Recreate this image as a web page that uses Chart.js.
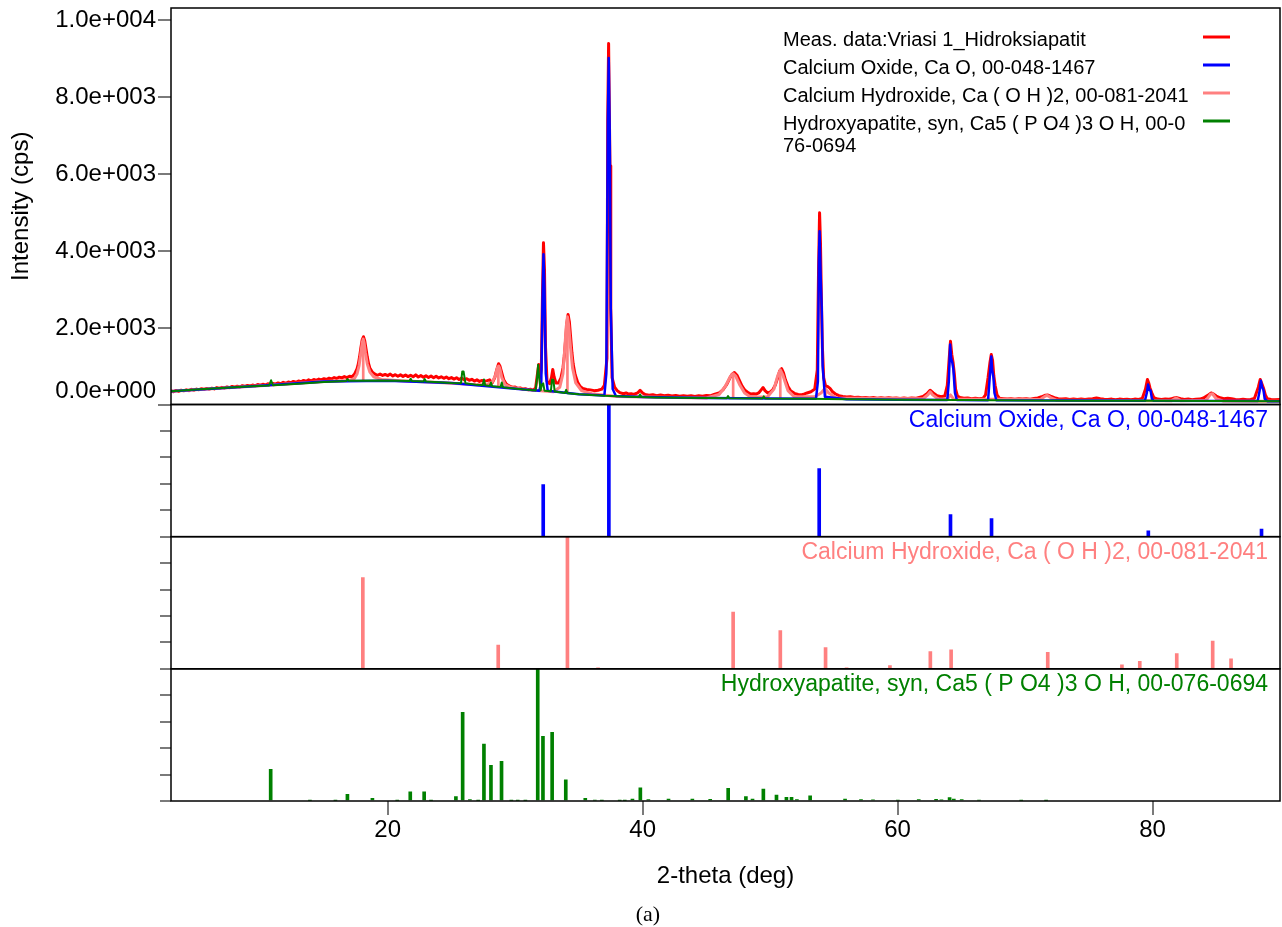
<!DOCTYPE html>
<html>
<head>
<meta charset="utf-8">
<script src="https://cdn.jsdelivr.net/npm/chart.js@4.4.1/dist/chart.umd.min.js"></script>
<style>
  html, body { margin: 0; padding: 0; background: #ffffff; }
  #wrap { position: relative; width: 1282px; height: 927px; }
  #cap { position: absolute; left: 618px; width: 60px; top: 903px; text-align: center;
         font: 22px "Liberation Serif", "Times New Roman", serif; line-height: 22px; color: #000; }
</style>
</head>
<body>
<div id="wrap">
  <canvas id="c" width="1282" height="927"></canvas>
  <div id="cap">(a)</div>
</div>
<script>
// ---------------- DATA ----------------
const xTicks = [20, 40, 60, 80];
const yTicks = [0, 2000, 4000, 6000, 8000, 10000];
const yTickLabels = ['0.0e+000', '2.0e+003', '4.0e+003', '6.0e+003', '8.0e+003', '1.0e+004'];
const stickTicks = [0, 20, 40, 60, 80, 100];

const legendLabels = [
  ['Meas. data:Vriasi 1_Hidroksiapatit'],
  ['Calcium Oxide, Ca O, 00-048-1467'],
  ['Calcium Hydroxide, Ca ( O H )2, 00-081-2041'],
  ['Hydroxyapatite, syn, Ca5 ( P O4 )3 O H, 00-0', '76-0694']
];
const panelLabels = [
  'Calcium Oxide, Ca O, 00-048-1467',
  'Calcium Hydroxide, Ca ( O H )2, 00-081-2041',
  'Hydroxyapatite, syn, Ca5 ( P O4 )3 O H, 00-076-0694'
];

// measured pattern [2theta, cps]
const measured = [
  [3.0,350],[3.2,330],[3.4,365],[3.6,340],[3.8,372],[4.0,355],[4.2,380],[4.4,360],[4.6,395],[4.8,372],
  [5.0,400],[5.2,385],[5.4,410],[5.6,392],[5.8,418],[6.0,400],[6.2,425],[6.4,405],[6.6,440],[6.8,418],
  [7.0,445],[7.2,430],[7.4,455],[7.6,438],[7.8,468],[8.0,450],[8.2,475],[8.4,455],[8.6,490],[8.8,468],
  [9.0,495],[9.2,480],[9.4,505],[9.6,485],[9.8,520],[10.0,500],[10.2,525],[10.4,505],[10.6,540],[10.8,518],
  [11.0,545],[11.2,528],[11.4,560],[11.6,540],[11.8,575],[12.0,552],[12.2,585],[12.4,565],[12.6,600],[12.8,578],
  [13.0,610],[13.2,590],[13.4,625],[13.6,605],[13.8,640],[14.0,615],[14.2,650],[14.4,628],[14.6,660],[14.8,640],
  [15.0,672],[15.2,650],[15.4,685],[15.6,662],[15.8,700],[16.0,675],[16.2,710],[16.4,690],[16.6,725],[16.8,700],
  [17.0,735],[17.2,720],[17.4,790],[17.6,930],[17.7,1060],[17.8,1250],[17.9,1480],[18.0,1680],[18.1,1760],[18.2,1650],
  [18.3,1440],[18.4,1230],[18.5,1060],[18.6,950],[18.8,840],[19.0,790],[19.2,760],[19.4,790],[19.6,755],[19.8,780],
  [20.0,750],[20.2,790],[20.4,740],[20.6,775],[20.8,735],[21.0,770],[21.2,730],[21.4,765],[21.6,725],[21.8,760],
  [22.0,720],[22.2,770],[22.4,715],[22.6,750],[22.8,710],[23.0,745],[23.2,700],[23.4,740],[23.6,695],[23.8,735],
  [24.0,690],[24.2,720],[24.4,680],[24.6,715],[24.8,670],[25.0,700],[25.2,660],[25.4,695],[25.6,650],[25.8,690],
  [26.0,640],[26.2,670],[26.4,630],[26.6,655],[26.8,610],[27.0,640],[27.2,600],[27.4,625],[27.6,610],[27.8,620],
  [28.0,640],[28.2,560],[28.4,700],[28.55,900],[28.7,1060],[28.8,1000],[28.95,820],[29.1,640],[29.3,530],[29.45,500],
  [29.6,470],[29.8,450],[30.0,455],[30.2,420],[30.4,430],[30.6,400],[30.8,410],[31.0,385],[31.2,395],[31.4,375],
  [31.6,420],[31.75,800],[31.85,1040],[31.95,700],[32.05,900],[32.15,3000],[32.22,4200],[32.3,3500],[32.38,1500],[32.5,600],
  [32.7,540],[32.85,700],[32.95,910],[33.05,720],[33.2,560],[33.4,560],[33.6,700],[33.75,950],[33.85,1250],[33.95,1650],
  [34.05,2100],[34.15,2340],[34.25,2150],[34.35,1750],[34.45,1350],[34.55,1050],[34.7,780],[34.9,580],[35.1,470],[35.3,420],
  [35.6,390],[35.9,380],[36.2,360],[36.5,370],[36.8,400],[37.0,500],[37.2,1200],[37.26,7400],[37.33,9380],[37.39,7500],
  [37.44,6200],[37.5,2500],[37.6,700],[37.8,450],[38.0,360],[38.2,310],[38.5,280],[38.7,300],[38.9,270],[39.1,280],
  [39.3,260],[39.6,300],[39.8,370],[40.0,300],[40.2,260],[40.5,240],[40.8,255],[41.1,230],[41.4,245],[41.7,225],
  [42.0,240],[42.3,220],[42.6,235],[42.9,215],[43.2,230],[43.5,215],[43.8,225],[44.1,210],[44.4,230],[44.7,215],
  [45.0,235],[45.3,225],[45.6,260],[46.0,300],[46.3,380],[46.6,520],[46.8,660],[47.0,780],[47.2,830],[47.4,760],
  [47.6,620],[47.8,480],[48.0,380],[48.3,300],[48.5,270],[48.7,280],[48.9,270],[49.1,300],[49.3,380],[49.45,440],
  [49.6,360],[49.8,300],[50.0,320],[50.2,380],[50.4,500],[50.6,700],[50.75,870],[50.9,930],[51.05,820],[51.2,640],
  [51.4,470],[51.6,360],[51.9,290],[52.2,260],[52.5,255],[52.7,275],[52.9,300],[53.2,330],[53.5,400],[53.7,900],
  [53.8,3500],[53.88,4980],[53.95,4200],[54.02,2800],[54.1,1500],[54.2,700],[54.35,480],[54.5,470],[54.7,420],[54.9,330],
  [55.1,280],[55.4,230],[55.7,210],[56.0,195],[56.3,200],[56.6,180],[56.9,190],[57.2,175],[57.5,185],[57.8,170],
  [58.1,180],[58.4,165],[58.7,178],[59.0,162],[59.3,175],[59.6,160],[59.9,172],[60.2,158],[60.5,170],[60.8,155],
  [61.1,168],[61.4,160],[61.7,185],[62.0,210],[62.3,280],[62.55,370],[62.8,300],[63.1,230],[63.4,200],[63.7,220],
  [63.9,500],[64.05,1200],[64.15,1640],[64.25,1300],[64.35,1100],[64.45,800],[64.55,400],[64.7,220],[64.9,180],[65.2,160],
  [65.5,170],[65.8,150],[66.1,162],[66.4,148],[66.7,160],[66.9,250],[67.1,700],[67.25,1100],[67.35,1300],[67.45,1150],
  [67.55,740],[67.65,500],[67.8,250],[68.0,160],[68.3,150],[68.6,140],[68.9,152],[69.2,138],[69.5,150],[69.8,140],
  [70.1,148],[70.4,136],[70.7,155],[71.0,170],[71.3,200],[71.6,240],[71.8,245],[72.0,215],[72.3,175],[72.6,150],
  [72.9,140],[73.2,148],[73.5,132],[73.8,145],[74.1,130],[74.4,142],[74.7,128],[75.0,140],[75.3,150],[75.6,170],
  [75.9,150],[76.2,135],[76.5,128],[76.8,140],[77.1,125],[77.4,140],[77.7,130],[78.0,138],[78.3,125],[78.6,140],
  [78.9,130],[79.2,160],[79.45,400],[79.6,650],[79.7,560],[79.8,430],[79.95,300],[80.1,180],[80.4,140],[80.7,128],
  [81.0,140],[81.3,135],[81.6,160],[81.9,180],[82.2,150],[82.5,130],[82.8,142],[83.1,125],[83.4,138],[83.7,140],
  [84.0,170],[84.3,230],[84.6,300],[84.8,270],[85.0,220],[85.3,175],[85.6,150],[85.9,160],[86.2,150],[86.5,130],
  [86.8,125],[87.1,135],[87.4,122],[87.7,130],[88.0,160],[88.3,450],[88.45,650],[88.6,520],[88.7,430],[88.85,250],
  [89.0,150],[89.3,130],[89.6,125],[90.0,130]
];

// fitted profile of Calcium Oxide (background + CaO peaks)
const profileCaO = [
  [3,345],[10,490],[15,595],[20,620],[25,560],[30,410],[31.9,355],[32.05,600],[32.15,2800],[32.22,3900],
  [32.3,3000],[32.4,800],[32.55,360],[35,265],[37.0,235],[37.15,800],[37.27,7400],[37.34,9000],[37.42,7000],[37.5,2500],
  [37.65,400],[37.9,220],[40,195],[45,168],[50,155],[53.6,150],[53.75,600],[53.82,3700],[53.88,4500],[53.96,3400],
  [54.05,2500],[54.12,1000],[54.3,200],[56,135],[60,125],[63.9,120],[64.02,600],[64.12,1560],[64.2,1200],[64.3,1080],
  [64.38,900],[64.5,300],[64.65,118],[67.1,112],[67.25,800],[67.35,1250],[67.42,900],[67.52,700],[67.6,300],[67.75,110],
  [79.4,95],[79.55,300],[79.65,520],[79.75,380],[79.85,360],[79.95,150],[80.1,95],[88.25,88],[88.4,350],[88.5,620],
  [88.6,450],[88.7,380],[88.8,150],[89,87],[90,85]
];

// fitted profile of Calcium Hydroxide (background + Ca(OH)2 peaks)
const profileCaOH = [
  [3,345],[10,490],[15,595],[17.0,625],[17.4,680],[17.6,800],[17.75,1000],[17.9,1350],[18.0,1600],[18.08,1700],
  [18.15,1600],[18.25,1350],[18.4,1050],[18.6,840],[18.9,720],[19.5,650],[21,620],[24,570],[27,510],[27.8,520],
  [28.2,580],[28.45,750],[28.6,950],[28.7,1000],[28.8,930],[28.95,700],[29.2,520],[29.6,450],[31,380],[33,330],
  [33.5,450],[33.75,800],[33.9,1500],[34.0,2000],[34.1,2280],[34.2,2050],[34.35,1450],[34.5,950],[34.75,560],[35.2,360],
  [36,280],[38,210],[45,168],[46.0,260],[46.5,480],[46.9,740],[47.1,800],[47.3,740],[47.6,520],[48.0,300],
  [48.5,190],[49.8,200],[50.3,400],[50.6,750],[50.8,900],[51.0,760],[51.4,360],[51.9,200],[53.5,200],[54.0,300],
  [54.3,420],[54.6,300],[55.2,170],[62.0,150],[62.4,260],[62.55,330],[62.75,250],[63.2,140],[63.9,140],[64.15,250],
  [64.4,140],[71.2,130],[71.6,220],[71.75,235],[72.0,180],[72.5,110],[81.5,100],[81.85,170],[82.2,100],[84.2,110],
  [84.55,270],[84.7,280],[85.0,150],[85.5,92],[90,85]
];
// Ca(OH)2 peak-position markers inside the main panel [2theta, from cps, to cps]
const markersCaOH = [[18.08,620,1650],[28.68,450,950],[34.1,290,2200],[47.1,165,760],[50.8,155,860],[54.35,150,400]];

// fitted profile of Hydroxyapatite (background + HA peaks)
const profileHA = [
  [3,345],[5,390],[7,430],[9,470],[10.7,495],[10.85,630],[11.0,500],[13,540],[15,585],[16.75,612],
  [16.85,660],[16.95,614],[19,625],[21,615],[21.7,610],[21.8,670],[21.9,608],[22.8,600],[22.9,660],[23.0,598],
  [25,560],[25.75,555],[25.85,860],[25.95,860],[26.1,550],[27,510],[27.45,500],[27.55,650],[27.65,500],[28.0,480],
  [28.1,570],[28.2,475],[28.85,455],[28.95,570],[29.05,450],[29.5,430],[31,380],[31.6,365],[31.72,700],[31.8,1030],
  [31.88,700],[32.0,370],[32.1,520],[32.2,550],[32.3,360],[32.8,345],[32.9,650],[33.0,640],[33.1,335],[33.9,300],
  [34.0,380],[34.1,295],[35,265],[37,225],[39,200],[39.7,195],[39.8,260],[39.9,195],[41,185],[43,175],
  [45,168],[46.6,163],[46.7,220],[46.8,162],[49.4,158],[49.5,210],[49.6,157],[53,148],[56,135],[60,125],
  [65,115],[70,105],[75,100],[80,95],[85,90],[90,85]
];

// reference sticks [2theta, relative intensity %]
const sticksCaO = [[32.2,39.4],[37.35,100],[53.85,51.5],[64.15,16.7],[67.37,13.6],[79.67,4.5],[88.55,5.8]];
const sticksCaOH = [
  [18.05,69],[28.67,18],[34.1,100],[36.5,0.6],[47.1,43],[50.8,29],[54.35,16],[56.0,0.8],[59.4,2.5],
  [62.57,13],[64.2,14.4],[71.78,12.4],[77.6,3],[79.0,5.6],[81.9,11.6],[84.72,21],[86.16,7.6]
];
const sticksHA = [
  [10.82,24],[13.9,0.4],[15.9,0.4],[16.84,5],[18.8,2],[20.75,0.4],[21.77,7],[22.86,7],[23.4,0.4],[25.35,3.3],
  [25.88,67],[26.45,1],[27.1,0.5],[27.55,43],[28.1,27],[28.93,30],[29.7,0.5],[30.2,0.5],[30.8,0.5],[31.77,100],
  [32.18,49],[32.9,52],[33.97,16],[35.5,2],[36.25,0.6],[36.8,0.5],[38.2,0.5],[38.6,0.5],[39.2,1.5],[39.82,10],
  [40.45,1],[42.03,1.5],[43.9,1.5],[45.3,1.2],[46.71,9.6],[48.1,3.3],[48.62,1.5],[49.47,9],[50.5,4.5],[51.28,2.8],
  [51.68,2.8],[52.1,1],[53.14,4],[55.88,1.5],[57.13,1],[58.07,0.8],[60.02,0.7],[61.66,1],[63.02,1.2],[63.44,0.8],
  [64.08,2.5],[64.41,1.5],[65.03,1],[66.39,0.6],[69.7,0.4],[71.65,0.4]
];

const seriesColors = ['#FF0000', '#0000FF', '#FF8080', '#008000'];

// ---------------- CHART ----------------
const FONT = '"Liberation Sans", Arial, Helvetica, sans-serif';
const toXY = arr => arr.map(p => ({x: p[0], y: p[1]}));

function fixWidth(scale) {
  scale.width = 171;
  scale.paddingTop = 0; scale.paddingBottom = 0;
}

const overlay = {
  id: 'overlay',
  afterDraw(chart) {
    const ctx = chart.ctx;
    const area = chart.chartArea;
    ctx.save();
    // panel frames
    ctx.strokeStyle = '#000';
    ctx.lineWidth = 1.5;
    ['y', 'yCaO', 'yCaOH', 'yHA'].forEach(id => {
      const s = chart.scales[id];
      ctx.strokeRect(area.left, s.top, area.right - area.left, s.bottom - s.top);
    });
    // panel labels
    ctx.font = '23px ' + FONT;
    ctx.textAlign = 'right';
    ctx.textBaseline = 'alphabetic';
    ['yCaO', 'yCaOH', 'yHA'].forEach((id, i) => {
      const s = chart.scales[id];
      ctx.fillStyle = seriesColors[i + 1];
      ctx.fillText(panelLabels[i], area.right - 12, s.top + 22);
    });
    // legend
    const top = chart.scales.y.top;
    ctx.font = '20px ' + FONT;
    ctx.textAlign = 'left';
    let base = top + 38;
    legendLabels.forEach((lines, i) => {
      ctx.fillStyle = '#000';
      lines.forEach((t, j) => ctx.fillText(t, area.left + 612, base + j * 22));
      ctx.strokeStyle = seriesColors[i];
      ctx.lineWidth = 3;
      ctx.beginPath();
      ctx.moveTo(area.left + 1032, base - 9);
      ctx.lineTo(area.left + 1059, base - 9);
      ctx.stroke();
      base += 28;
    });
    ctx.restore();
  }
};

const tickGrid = (len) => ({display: true, drawOnChartArea: false, drawTicks: true, tickLength: len,
  color: '#7a7a7a', lineWidth: 2, offset: false});

const lineDs = (label, data, color, width, order) => ({
  label, data: toXY(data), borderColor: color, borderWidth: width, pointRadius: 0,
  borderJoinStyle: 'round', borderCapStyle: 'round', yAxisID: 'y', order
});

new Chart(document.getElementById('c'), {
  type: 'line',
  data: {
    datasets: [
      lineDs('HA profile', profileHA, seriesColors[3], 2, 1),
      lineDs('CaO profile', profileCaO, seriesColors[1], 2.5, 2),
      {type: 'bar', label: 'Ca(OH)2 markers', data: markersCaOH.map(p => ({x: p[0], y: [p[1], p[2]]})),
       backgroundColor: seriesColors[2], barThickness: 2, grouped: false, yAxisID: 'y', order: 3},
      lineDs('Ca(OH)2 profile', profileCaOH, seriesColors[2], 3, 4),
      lineDs('Measured', measured, seriesColors[0], 3, 5),
      {type: 'bar', label: 'CaO ref', data: toXY(sticksCaO), backgroundColor: seriesColors[1],
       barThickness: 3, grouped: false, yAxisID: 'yCaO', order: 6},
      {type: 'bar', label: 'Ca(OH)2 ref', data: toXY(sticksCaOH), backgroundColor: seriesColors[2],
       barThickness: 3, grouped: false, yAxisID: 'yCaOH', order: 7},
      {type: 'bar', label: 'HA ref', data: toXY(sticksHA), backgroundColor: seriesColors[3],
       barThickness: 3, grouped: false, yAxisID: 'yHA', order: 8}
    ]
  },
  options: {
    responsive: false,
    animation: false,
    devicePixelRatio: 1,
    layout: {padding: {top: 8, right: 2, left: 0, bottom: 36}},
    plugins: {legend: {display: false}, tooltip: {enabled: false}},
    elements: {line: {tension: 0}},
    scales: {
      x: {
        type: 'linear', position: 'bottom', min: 3, max: 90, offset: false, bounds: 'data',
        afterBuildTicks: s => { s.ticks = xTicks.map(v => ({value: v})); },
        afterFit: s => { s.height = 90; s.paddingLeft = 0; s.paddingRight = 0; },
        grid: tickGrid(14),
        border: {display: false},
        ticks: {font: {family: FONT, size: 24}, color: '#000', padding: 1, maxRotation: 0, autoSkip: false},
        title: {display: true, text: '2-theta (deg)', font: {family: FONT, size: 24}, color: '#000',
                padding: {top: 0, bottom: 0}}
      },
      y: {
        type: 'linear', position: 'left', stack: 'xrd', stackWeight: 3, weight: 4,
        min: 0, max: 10300,
        afterBuildTicks: s => { s.ticks = yTicks.map(v => ({value: v})); },
        afterFit: fixWidth,
        grid: tickGrid(13),
        border: {display: false},
        ticks: {font: {family: FONT, size: 24}, color: '#000', padding: 2, autoSkip: false, labelOffset: 1,
                callback: v => {
                  const t = yTickLabels[yTicks.indexOf(v)];
                  return v === yTicks[0] ? [t, ''] : t;   // bottom label kept inside its panel
                }},
        title: {display: true, text: 'Intensity (cps)', font: {family: FONT, size: 24}, color: '#000',
                padding: {top: 7, bottom: 0}}
      },
      yCaO: {
        type: 'linear', position: 'left', stack: 'xrd', stackWeight: 1, weight: 3,
        min: 0, max: 100,
        afterBuildTicks: s => { s.ticks = stickTicks.map(v => ({value: v})); },
        afterFit: fixWidth,
        grid: tickGrid(11), border: {display: false},
        ticks: {autoSkip: false, callback: () => ''}
      },
      yCaOH: {
        type: 'linear', position: 'left', stack: 'xrd', stackWeight: 1, weight: 2,
        min: 0, max: 100,
        afterBuildTicks: s => { s.ticks = stickTicks.map(v => ({value: v})); },
        afterFit: fixWidth,
        grid: tickGrid(11), border: {display: false},
        ticks: {autoSkip: false, callback: () => ''}
      },
      yHA: {
        type: 'linear', position: 'left', stack: 'xrd', stackWeight: 1, weight: 1,
        min: 0, max: 100,
        afterBuildTicks: s => { s.ticks = stickTicks.map(v => ({value: v})); },
        afterFit: fixWidth,
        grid: tickGrid(11), border: {display: false},
        ticks: {autoSkip: false, callback: () => ''}
      }
    }
  },
  plugins: [overlay]
});
</script>
</body>
</html>
